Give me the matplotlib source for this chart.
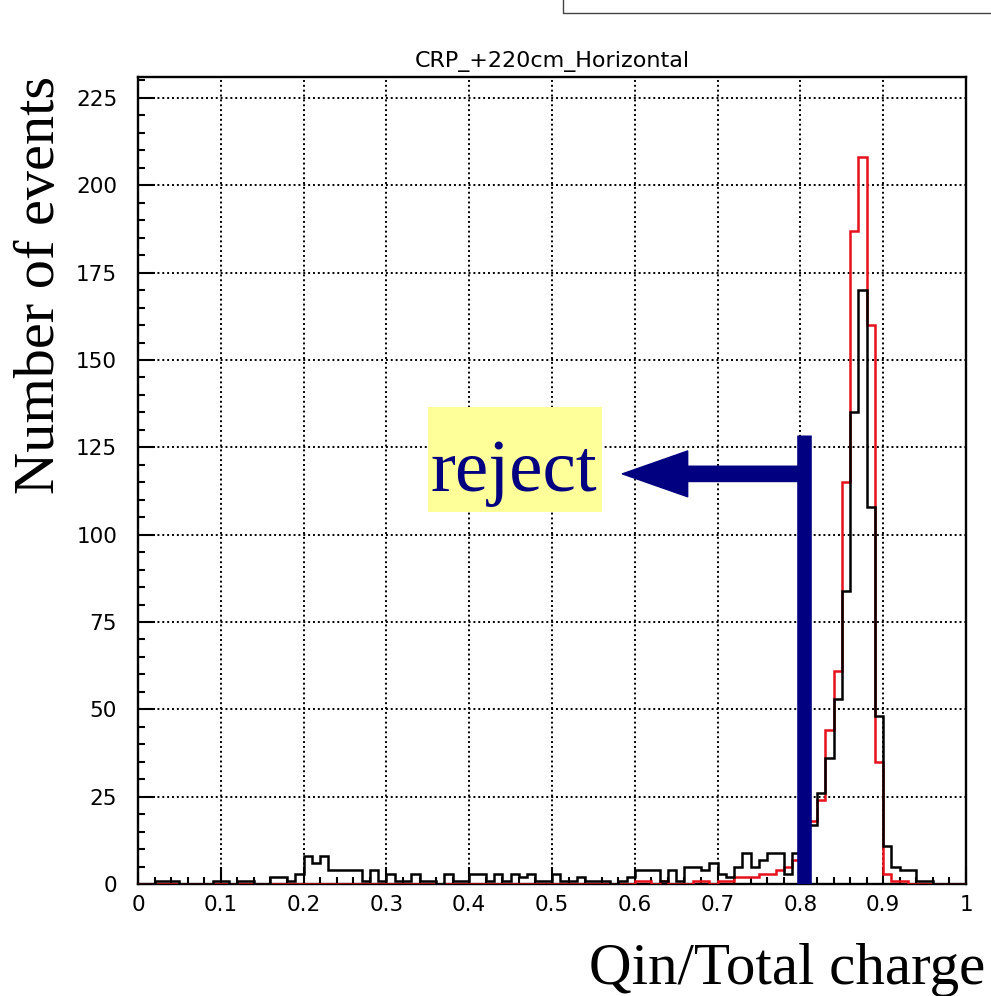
import numpy as np
import matplotlib.pyplot as plt
from matplotlib.patches import Rectangle, FancyArrowPatch
from matplotlib.ticker import MultipleLocator

# 100 bins of 0.01 on Qin/Total charge
edges = np.linspace(0.0, 1.0, 101)

black_counts = [
    0, 0, 1, 1, 1, 0, 0, 0, 0, 1,
    1, 0, 1, 1, 0, 0, 2, 2, 1, 3,
    8, 6, 8, 4, 4, 4, 4, 1, 4, 1,
    3, 1, 1, 3, 1, 1, 0, 3, 1, 1,
    3, 3, 1, 3, 1, 3, 2, 3, 1, 1,
    3, 1, 1, 2, 1, 1, 1, 0, 1, 2,
    4, 4, 4, 1, 4, 1, 5, 5, 4, 6,
    3, 2, 5, 9, 5, 7, 9, 9, 3, 9,
    12, 17, 26, 36, 53, 84, 135, 170, 108, 48,
    11, 5, 4, 4, 1, 1, 0, 0, 0, 0,
]

red_counts = [0] * 60 + [
    1, 1, 0, 1, 0, 0, 0, 1, 1, 0,
    1, 1, 2, 2, 2, 3, 3, 4, 5, 7,
    10, 18, 24, 44, 61, 115, 187, 208, 160, 35,
    3, 1, 1, 0, 0, 0, 0, 0, 0, 0,
]

x_ticks = [0, 0.1, 0.2, 0.3, 0.4, 0.5, 0.6, 0.7, 0.8, 0.9, 1.0]
x_tick_labels = ['0', '0.1', '0.2', '0.3', '0.4', '0.5', '0.6', '0.7', '0.8', '0.9', '1']
y_ticks = [0, 25, 50, 75, 100, 125, 150, 175, 200, 225]

title = 'CRP_+220cm_Horizontal'
cut_value = 0.804
cut_height = 128.5
reject_tip = 0.585
reject_level = 117.4

W, H = 991, 996
fig = plt.figure(figsize=(W / 100, H / 100), dpi=100)
ax = fig.add_axes([138 / W, 1 - 884 / H, 828 / W, 807 / H])

ax.set_xlim(0, 1)
ax.set_ylim(0, 231)

ax.grid(True, which='major', color='black', linestyle=(0, (1.0, 1.5)), linewidth=1.4)
ax.set_axisbelow(True)

ax.stairs(red_counts, edges, color='#e8101a', linewidth=1.8, zorder=3)
ax.stairs(black_counts, edges, color='black', linewidth=1.8, zorder=4)

ax.set_xticks(x_ticks)
ax.set_xticklabels(x_tick_labels)
ax.set_yticks(y_ticks)
ax.xaxis.set_minor_locator(MultipleLocator(0.02))
ax.yaxis.set_minor_locator(MultipleLocator(5))
ax.tick_params(which='both', direction='in', top=False, right=False, width=1.5)
ax.tick_params(which='major', length=12)
ax.tick_params(which='minor', length=5)
ax.tick_params(axis='x', pad=8, labelsize=15.5)
ax.tick_params(axis='y', pad=15, labelsize=15.5)
for lab in ax.get_xticklabels() + ax.get_yticklabels():
    lab.set_family('DejaVu Sans')
for sp in ax.spines.values():
    sp.set_linewidth(1.7)

fig.text(552 / W, 1 - 61 / H, title, ha='center', va='center',
         fontsize=16, family='DejaVu Sans')

fig.text(40 / W, 1 - 285 / H, 'Number of events', rotation=90,
         ha='center', va='center', fontsize=42, family='Liberation Serif')
fig.text(985 / W, 1 - 984 / H, 'Qin/Total charge', ha='right', va='baseline',
         fontsize=42.5, family='Liberation Serif')

# box cut off at the top right corner
fig.patches.append(Rectangle((563 / W, 1 - 13 / H), 0.6, 0.1, transform=fig.transFigure,
                             fill=False, edgecolor='#444444', linewidth=1.0))

# reject label and cut marker
ax.add_patch(Rectangle((428 / W, 1 - 512 / H), 174 / W, 105 / H, transform=fig.transFigure,
                       facecolor='#ffff99', edgecolor='none', zorder=5))
fig.text(430 / W, 1 - 491 / H, 'reject', ha='left', va='baseline', color='#000080',
         fontsize=54, family='Liberation Serif', zorder=6)

ax.plot([cut_value, cut_value], [0, cut_height], color='#000080', linewidth=10.5,
        solid_capstyle='butt', zorder=6)
arrow = FancyArrowPatch((cut_value, reject_level), (reject_tip, reject_level),
                        arrowstyle='simple,head_length=47,head_width=33,tail_width=11',
                        mutation_scale=1, shrinkA=0, shrinkB=0,
                        color='#000080', zorder=6)
ax.add_patch(arrow)

fig.savefig('out.png', dpi=100)
